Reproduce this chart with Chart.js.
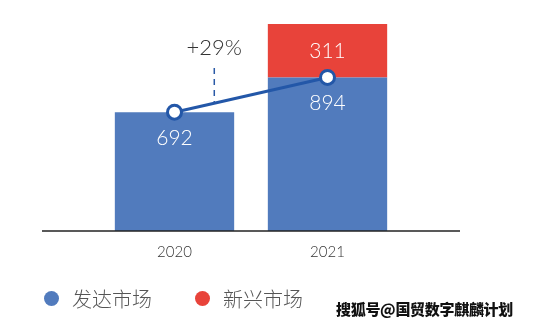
<!DOCTYPE html>
<html><head><meta charset="utf-8">
<script src="https://cdn.jsdelivr.net/npm/chart.js@4"></script>
<style>
html,body{margin:0;padding:0;background:#fff;}
#wrap{position:relative;width:536px;height:328px;}
canvas{position:absolute;left:0;top:0;}
.leg{position:absolute;top:284px;font-family:"Noto Sans CJK SC";font-size:20px;color:#555;font-weight:300;}
.dot{position:absolute;width:15px;height:15px;border-radius:50%;top:291px;}
#wm{position:absolute;left:336px;top:298px;font-family:"Noto Sans CJK SC";font-weight:900;font-size:15px;color:#111;text-shadow:0 0 2px #fff,0 0 2px #fff;letter-spacing:-0.3px;}
</style></head>
<body><div id="wrap">
<canvas id="c" width="536" height="328"></canvas>
<div class="dot" style="left:44px;background:#517bbd"></div>
<div class="leg" style="left:72px" id="l1"></div>
<div class="dot" style="left:195px;background:#e8433a"></div>
<div class="leg" style="left:223px" id="l2"></div>
<div id="wm"></div>
</div>
<script>
const categories = ['2020', '2021'];
const developed = [692, 894];
const emerging = [0, 311];
const trend = [692, 894];
const growthLabel = '+29%';
const seriesNames = ['发达市场', '新兴市场'];
const watermark = '搜狐号@国贸数字麒麟计划';

document.getElementById('l1').textContent = seriesNames[0];
document.getElementById('l2').textContent = seriesNames[1];
document.getElementById('wm').textContent = watermark;

const FONT = 'Lato, "DejaVu Sans", sans-serif';

const decor = {
  id: 'decor',
  afterDatasetsDraw(chart) {
    const ctx = chart.ctx;
    const x = chart.scales.x, y = chart.scales.y;
    ctx.save();
    ctx.strokeStyle = '#222';
    ctx.lineWidth = 1.6;
    ctx.beginPath();
    ctx.moveTo(42, y.getPixelForValue(0));
    ctx.lineTo(460, y.getPixelForValue(0));
    ctx.stroke();
    ctx.fillStyle = '#fff';
    ctx.font = '300 21px ' + FONT;
    ctx.textAlign = 'center';
    ctx.textBaseline = 'middle';
    const m0 = chart.getDatasetMeta(0), m1 = chart.getDatasetMeta(1);
    developed.forEach((v, i) => {
      const el = m0.data[i];
      ctx.fillText(String(v), el.x, el.y + 26);
    });
    emerging.forEach((v, i) => {
      if (!v) return;
      const el = m1.data[i];
      ctx.fillText(String(v), el.x, (el.y + el.base) / 2);
    });
    const m2 = chart.getDatasetMeta(2);
    const p0 = m2.data[0], p1 = m2.data[1];
    const t = 0.26;
    const ax = p0.x + t * (p1.x - p0.x);
    const ay = p0.y + t * (p1.y - p0.y);
    ctx.strokeStyle = '#2a5aa6';
    ctx.lineWidth = 1.5;
    ctx.setLineDash([6, 5]);
    ctx.beginPath();
    ctx.moveTo(ax, 68);
    ctx.lineTo(ax, ay);
    ctx.stroke();
    ctx.setLineDash([]);
    ctx.fillStyle = '#333';
    ctx.font = '300 22px ' + FONT;
    ctx.fillText(growthLabel, ax, 48);
    ctx.restore();
  }
};

new Chart(document.getElementById('c'), {
  data: {
    labels: categories,
    datasets: [
      { type: 'bar', label: seriesNames[0], data: developed, backgroundColor: '#517bbd', stack: 'bars', order: 2,
        barPercentage: 0.78, categoryPercentage: 1.0 },
      { type: 'bar', label: seriesNames[1], data: emerging, backgroundColor: '#e8433a', stack: 'bars', order: 2,
        barPercentage: 0.78, categoryPercentage: 1.0 },
      { type: 'line', label: 'trend', data: trend, stack: 'line', order: 1,
        borderColor: '#2357a8', borderWidth: 3, pointRadius: 7, pointBorderWidth: 3,
        pointBackgroundColor: '#fff', pointBorderColor: '#2357a8', tension: 0 }
    ]
  },
  options: {
    responsive: false,
    animation: false,
    layout: { padding: { left: 98, right: 132, top: 1, bottom: 63 } },
    plugins: { legend: { display: false }, tooltip: { enabled: false } },
    scales: {
      x: { stacked: true, grid: { display: false }, border: { display: false },
           ticks: { color: '#333', font: { family: FONT, size: 15, weight: 300 }, padding: 4 } },
      y: { stacked: true, min: 0, max: 1287, display: false }
    }
  },
  plugins: [decor]
});
</script>
</body></html>
